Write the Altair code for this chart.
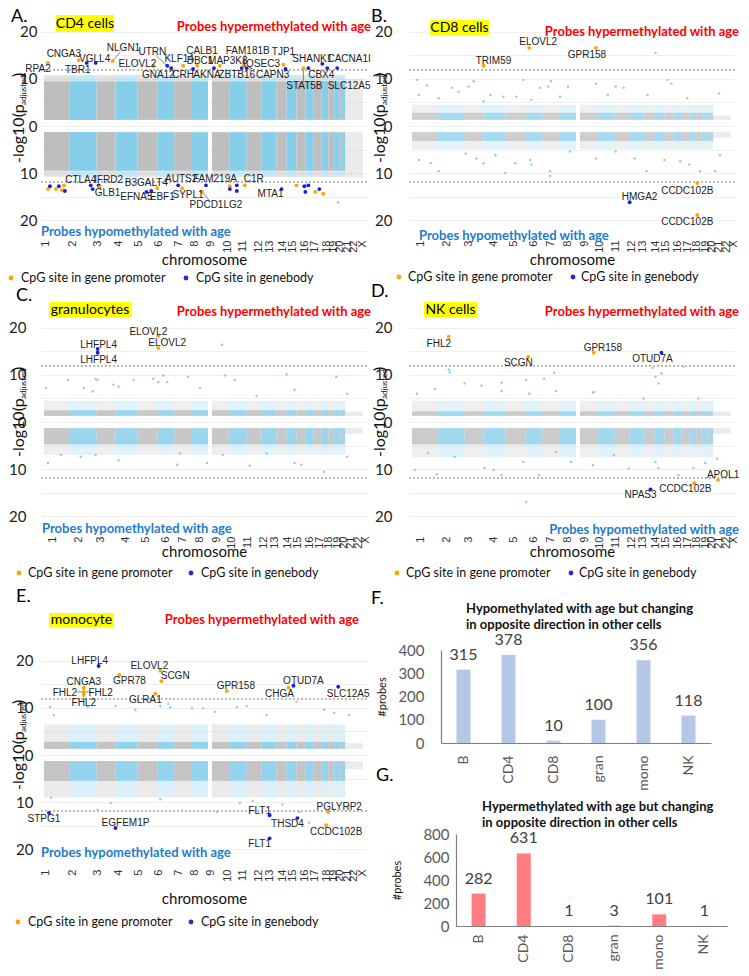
import altair as alt
import pandas as pd

FONT = "Lato"
GFONT = "Liberation Sans"
GRAY = "#bebebe"
SKY = "#87ceeb"
ORANGE = "#ffa500"
GBLUE = "#1c1ce0"
RED = "#ff0000"
HYPO_BLUE = "#1f7ccc"

# ---------------- chromosome layout (position units along the genome axis) ----------------
CHR_NAMES = ["1", "2", "3", "4", "5", "6", "7", "8", "9", "10", "11", "12", "13", "14",
             "15", "16", "17", "18", "19", "20", "21", "22", "X"]
CHR_START = [3, 29, 56, 75, 97, 117, 134, 152, 172, 190, 207, 222, 237, 247, 257, 266, 274, 282, 289, 295, 300, 303, 306]
CHR_END = [29, 56, 75, 97, 117, 134, 152, 168, 190, 207, 222, 237, 247, 257, 266, 274, 282, 289, 295, 300, 303, 306, 324]
TICKS_AE = [5, 32, 57, 78, 98, 118, 138, 154, 171, 188, 203, 219, 230, 243, 253, 265, 275, 287, 294, 300, 308, 314, 323]
TICKS_BCD = [12, 38, 60, 85, 105, 125, 142, 159, 177, 192, 208, 224, 235, 248, 258, 270, 280, 289, 298, 304, 311, 319, 326]
THRESH = 11.9

# cloud extents: core_up, halo_up, core_down, halo_down, X_up, X_down
CLOUD_A = [9.5, 10.8, -9.5, -10.8, 10.0, -11.0]
CLOUD_B = [2.8, 4.5, -3.2, -5.0, 2.2, -2.5]
CLOUD_C = [2.5, 4.5, -4.8, -7.0, 2.2, -2.5]
CLOUD_D = [2.3, 4.5, -4.8, -7.5, 2.2, -2.5]
CLOUD_E = [2.8, 6.5, -5.5, -9.0, 2.5, -3.0]

# ---------------- panel A: CD4 ----------------
A_POINTS = [(7, 13.4, "p"), (38, 14.0, "p"), (46, 13.4, "g"), (55, 13.4, "g"), (72, 13.8, "p"), (113, 12.8, "p"),
            (127, 12.8, "g"), (131, 12.3, "g"), (143, 12.8, "p"), (153, 12.1, "g"), (157, 12.8, "p"), (174, 12.3, "g"),
            (180, 12.8, "p"), (202, 12.3, "g"), (204, 12.8, "p"), (207, 12.3, "g"), (244, 13.0, "p"), (246, 12.1, "g"),
            (264, 12.3, "p"), (269, 12.3, "g"), (283, 13.2, "g"), (288, 12.3, "g"), (298, 12.3, "g"),
            (7, -13.4, "p"), (9, -12.8, "g"), (15, -13.4, "p"), (18, -12.8, "g"), (21, -13.6, "p"), (23, -12.6, "p"),
            (24, -13.8, "g"), (50, -12.6, "g"), (52, -13.4, "g"), (58, -12.6, "g"), (59, -13.0, "p"), (106, -14.0, "g"),
            (111, -13.8, "g"), (117, -13.2, "p"), (138, -12.6, "g"), (142, -13.2, "p"), (162, -14.0, "p"),
            (166, -12.6, "g"), (190, -12.8, "p"), (190, -13.4, "g"), (197, -12.6, "g"), (197, -13.8, "g"),
            (205, -12.6, "p"), (242, -13.4, "g"), (257, -12.6, "p"), (265, -12.8, "g"), (266, -14.0, "g"),
            (269, -12.6, "g"), (276, -14.0, "p"), (280, -13.4, "g"), (284, -14.4, "p")]
A_LABELS = [("RPA2", -3, 12.1), ("CNGA3", 23, 15.3), ("TBR1", 37, 11.9), ("VGLL4", 54, 14.3), ("NLGN1", 83, 16.6),
            ("ELOVL2", 97, 13.2), ("UTRN", 112, 15.7), ("GNA12", 118, 10.9), ("KLF14", 139, 14.3), ("CRH", 143, 10.9),
            ("CALB1", 162, 16.0), ("DBC1", 160, 13.8), ("AKNA", 167, 10.9), ("MAP3K8", 188, 13.8),
            ("FAM181B", 208, 16.0), ("ZBTB16", 197, 10.9), ("IQSEC3", 222, 13.2), ("TJP1", 244, 15.7),
            ("CAPN3", 233, 10.9), ("SHANK1", 273, 14.3), ("STAT5B", 265, 8.5), ("CBX4", 282, 10.9),
            ("CACNA1I", 310, 14.3), ("SLC12A5", 310, 8.5),
            ("CTLA4", 40, -11.5), ("IFRD2", 68, -11.5), ("GLB1", 67, -14.3), ("B3GALT4", 106, -12.1),
            ("EFNA5", 96, -15.1), ("EBF1", 122, -15.1), ("AUTS2", 141, -11.3), ("SYPL1", 148, -14.7),
            ("FAM219A", 175, -11.3), ("PDCD1LG2", 176, -16.8), ("C1R", 214, -11.3), ("MTA1", 231, -14.5)]
A_LEADERS = [(72, 13.8, 80, 15.8), (127, 12.8, 116, 14.9), (264, 12.0, 264, 9.3), (162, -14.0, 170, -16.0),
             (202, 12.3, 206, 15.2)]
A_SCATTER = [(299, -16.2)]

# ---------------- panel B: CD8 ----------------
B_POINTS = [(75, 12.8, "p"), (121, 16.6, "p"), (188, 16.6, "p"), (290, -12.1, "p"), (222, -16.2, "g"), (290, -18.9, "p")]
B_LABELS = [("TRIM59", 85, 13.8), ("ELOVL2", 130, 17.8), ("GPR158", 179, 15.1), ("CCDC102B", 280, -13.8),
            ("HMGA2", 232, -15.1), ("CCDC102B", 280, -20.4)]
B_LEADERS = []
B_SCATTER = [(248, 15.5), (8, 9.8), (18, 8.6), (10, 6.6), (30, 5.9), (43, 8.1), (50, 7.3), (60, 8.4), (65, 9.5),
             (75, 5.2), (82, 6.6), (95, 6.2), (108, 6.2), (115, 9.8), (123, 5.6), (132, 8.1), (140, 8.4), (143, 9.5),
             (152, 6.2), (160, 8.4), (188, 9.0), (200, 6.6), (208, 8.4), (216, 8.1), (240, 6.6), (260, 9.8),
             (264, 9.0), (280, 5.9), (312, 6.9),
             (10, -7.2), (22, -7.9), (30, -9.6), (57, -5.9), (68, -6.9), (75, -7.9), (87, -6.2), (97, -10.0),
             (107, -7.9), (122, -7.2), (123, -8.2), (142, -9.6), (142, -10.6), (162, -5.4), (188, -6.9),
             (208, -5.4), (227, -6.9), (239, -9.6), (257, -7.2), (273, -7.5), (282, -8.2), (293, -9.6),
             (308, -9.6), (313, -6.2)]

# ---------------- panel C: granulocytes ----------------
C_POINTS = [(57, 15.5, "g"), (57, 14.7, "g"), (118, 18.3, "p"), (118, 15.7, "p")]
C_LABELS = [("LHFPL4", 58, 16.4), ("LHFPL4", 58, 13.2), ("ELOVL2", 108, 19.1), ("ELOVL2", 127, 16.8)]
C_LEADERS = []
C_SCATTER = [(182, 16.4), (5, 7.2), (27, 8.9), (43, 7.2), (55, 9.1), (57, 8.9), (52, 6.5), (73, 7.9), (78, 7.5),
             (93, 8.9), (113, 9.2), (118, 8.5), (123, 9.9), (127, 8.5), (148, 9.6), (160, 7.2), (185, 9.9),
             (195, 8.9), (217, 5.5), (247, 10.1), (255, 6.8), (297, 9.6), (308, 6.0),
             (7, -8.7), (20, -7.0), (40, -7.4), (55, -7.0), (78, -8.1), (137, -9.1), (140, -6.7), (167, -8.7),
             (183, -7.0), (210, -9.3), (227, -6.7), (255, -8.7), (262, -9.1), (285, -10.6), (308, -7.4)]

# ---------------- panel D: NK ----------------
D_POINTS = [(40, 18.1, "p"), (120, 13.8, "p"), (186, 14.7, "p"), (254, 14.7, "g"), (243, -14.3, "g"),
            (287, -13.0, "p"), (311, -12.3, "p")]
D_LABELS = [("FHL2", 30, 16.6), ("SCGN", 110, 12.5), ("GPR158", 195, 15.7), ("OTUD7A", 245, 13.4),
            ("NPAS3", 233, -15.5), ("CCDC102B", 278, -14.3), ("APOL1", 316, -11.3)]
D_LEADERS = []
D_SCATTER = [(118, -17.0), (40, 11.1), (41, 10.5), (8, 6.0), (26, 7.0), (56, 8.2), (73, 7.7), (93, 8.4), (93, 6.6),
             (118, 8.9), (121, 6.0), (136, 9.2), (146, 10.4), (148, 6.6), (185, 6.2), (186, 6.4), (236, 5.0),
             (248, 9.6), (251, 8.2), (254, 10.3), (245, 11.5), (276, 11.8), (291, 5.0),
             (6, -10.2), (19, -6.6), (28, -11.1), (46, -7.4), (76, -9.8), (85, -10.2), (93, -11.3), (115, -8.5),
             (131, -11.3), (148, -6.4), (163, -8.5), (185, -9.2), (206, -7.0), (221, -9.9), (248, -8.5),
             (251, -9.8), (271, -11.3), (286, -9.8), (298, -8.7), (310, -7.8)]

# ---------------- panel E: monocyte ----------------
E_POINTS = [(58, 18.9, "g"), (79, 17.0, "p"), (120, 17.9, "p"), (121, 15.7, "p"), (115, 13.0, "p"), (43, 14.3, "p"),
            (43, 13.4, "p"), (43, 12.8, "p"), (187, 13.6, "p"), (254, 14.7, "g"), (249, 14.3, "p"), (299, 14.5, "g"),
            (8, -12.3, "g"), (75, -15.5, "g"), (230, -12.8, "g"), (230, -17.7, "g"), (258, -13.4, "g"),
            (289, -12.1, "p"), (287, -14.9, "p")]
E_LABELS = [("LHFPL4", 49, 20.0), ("GPR78", 89, 15.7), ("ELOVL2", 109, 18.9), ("SCGN", 135, 16.8),
            ("GLRA1", 105, 11.7), ("CNGA3", 43, 15.5), ("FHL2", 24, 13.2), ("FHL2", 60, 13.2), ("FHL2", 43, 11.1),
            ("GPR158", 196, 14.7), ("OTUD7A", 264, 15.7), ("CHGA", 240, 13.0), ("SLC12A5", 309, 13.0),
            ("STPG1", 3, -13.6), ("EGFEM1P", 85, -14.5), ("FLT1", 220, -11.9), ("FLT1", 220, -18.9),
            ("THSD4", 248, -14.7), ("PGLYRP2", 300, -11.1), ("CCDC102B", 297, -16.4)]
E_LEADERS = [(36, 13.4, 50, 13.4), (43, 12.3, 43, 14.6)]
E_SCATTER = [(9, 10.2), (13, 8.5), (47, 10.2), (75, 10.4), (95, 9.6), (120, 10.4), (128, 10.9), (130, 10.1),
             (152, 9.9), (163, 9.9), (175, 9.2), (197, 10.2), (207, 10.4), (227, 8.5), (257, 11.3), (285, 9.6),
             (295, 8.9), (310, 8.5), (10, -9.1), (57, -11.6), (70, -10.2), (120, -9.4), (142, -11.8),
             (177, -12.1), (200, -10.2), (213, -9.7), (243, -10.5), (270, -14.4), (260, -12.1), (310, -10.9)]

# ---------------- bar panels F, G ----------------
CELLS = ["B", "CD4", "CD8", "gran", "mono", "NK"]
F_VALUES = [315, 378, 10, 100, 356, 118]
G_VALUES = [282, 631, 1, 3, 101, 1]

W = 326
XDOM = [0, 328]
PX_PER_UNIT = 226 / 48.0


def chrom_color(x):
    for i in range(len(CHR_NAMES)):
        if CHR_START[i] <= x < CHR_END[i]:
            return SKY if i % 2 else GRAY
    return GRAY


def cloud_rows(cloud, core_op, halo_op):
    cu, hu, cd, hd, xu, xd = cloud
    rows = []
    for i, name in enumerate(CHR_NAMES):
        s, e = CHR_START[i], CHR_END[i]
        c = SKY if i % 2 else GRAY
        if name == "X":
            rows.append(dict(x0=s, x1=e, y0=1.3, y1=xu, c=c, o=0.3))
            rows.append(dict(x0=s, x1=e, y0=-1.3, y1=xd, c=c, o=0.3))
        else:
            rows.append(dict(x0=s, x1=e, y0=cu, y1=hu, c=c, o=halo_op))
            rows.append(dict(x0=s, x1=e, y0=cd, y1=hd, c=c, o=halo_op))
            rows.append(dict(x0=s, x1=e, y0=1.3, y1=cu, c=c, o=core_op))
            rows.append(dict(x0=s, x1=e, y0=-1.3, y1=cd, c=c, o=core_op))
    return pd.DataFrame(rows)


def px_text(text, x, y, **kw):
    return alt.Chart(pd.DataFrame({"t": [text]})).mark_text(**kw).encode(
        x=alt.value(x), y=alt.value(y), text="t:N")


def px_dot(x, y, color, size=24):
    return alt.Chart(pd.DataFrame({"t": [0]})).mark_circle(color=color, size=size, opacity=1).encode(
        x=alt.value(x), y=alt.value(y))


def px_box(x0, x1, y0, y1, color):
    return alt.Chart(pd.DataFrame({"t": [0]})).mark_rect(color=color).encode(
        x=alt.value(x0), x2=alt.value(x1), y=alt.value(y0), y2=alt.value(y1))


def manhattan(cfg):
    extra = cfg.get("extra_top", 0)
    h = 226 + extra
    ytop = 24 + extra / PX_PER_UNIT
    xs = alt.Scale(domain=XDOM, nice=False, zero=False)
    ys = alt.Scale(domain=[-24, ytop], nice=False, zero=False)
    ticks = cfg["ticks"]
    names_js = "[" + ",".join("'%s'" % n for n in CHR_NAMES) + "]"
    pos_js = "[" + ",".join(str(t) for t in ticks) + "]"
    xaxis = alt.Axis(values=ticks, labelExpr="%s[indexof(%s, datum.value)]" % (names_js, pos_js),
                     labelAngle=270, labelFont=GFONT, labelFontSize=11, labelColor="#333",
                     labelOverlap=False, labelFlush=False, labelPadding=1, ticks=False, tickSize=0,
                     domain=False, grid=False, title="chromosome", titleFont=FONT, titleFontSize=15,
                     titleFontWeight="normal", titleColor="#111", titlePadding=cfg["xtitle_pad"])
    yaxis = alt.Axis(values=list(range(-20, 21, 5)),
                     labelExpr="abs(datum.value) % 10 == 0 ? format(abs(datum.value), 'd') : ''",
                     labelFont=FONT, labelFontSize=15, labelColor="#222", labelPadding=cfg["ylab_pad"],
                     ticks=False, tickSize=0, domain=False, grid=True, gridColor="#ebebeb", gridWidth=0.8,
                     title=None)

    def X(f):
        return alt.X(f, scale=xs, axis=xaxis)

    def Y(f):
        return alt.Y(f, scale=ys, axis=yaxis)

    layers = []
    layers.append(alt.Chart(cloud_rows(cfg["cloud"], cfg["core_op"], cfg["halo_op"])).mark_rect().encode(
        x=X("x0:Q"), x2="x1:Q", y=Y("y0:Q"), y2="y1:Q",
        color=alt.Color("c:N", scale=None), opacity=alt.Opacity("o:Q", scale=None)))
    layers.append(alt.Chart(pd.DataFrame({"v": [THRESH, -THRESH]})).mark_rule(
        color="#666", strokeDash=[2, 2], strokeWidth=0.9).encode(y=Y("v:Q")))
    sc = pd.DataFrame([dict(x=x, y=y, c=chrom_color(x)) for x, y in cfg["scatter"]])
    layers.append(alt.Chart(sc).mark_circle(size=6, opacity=1).encode(
        x=X("x:Q"), y=Y("y:Q"), color=alt.Color("c:N", scale=None)))
    if cfg["leaders"]:
        ld = pd.DataFrame(cfg["leaders"], columns=["x", "y", "x2", "y2"])
        layers.append(alt.Chart(ld).mark_rule(color="#555", strokeWidth=0.7).encode(
            x=X("x:Q"), y=Y("y:Q"), x2="x2:Q", y2="y2:Q"))
    pt = pd.DataFrame(cfg["points"], columns=["x", "y", "t"])
    layers.append(alt.Chart(pt).mark_circle(size=15, opacity=1).encode(
        x=X("x:Q"), y=Y("y:Q"),
        color=alt.Color("t:N", scale=alt.Scale(domain=["p", "g"], range=[ORANGE, GBLUE]), legend=None)))
    lb = pd.DataFrame(cfg["labels"], columns=["t", "x", "y"])
    layers.append(alt.Chart(lb).mark_text(font=GFONT, fontSize=10, color="#222").encode(
        x=X("x:Q"), y=Y("y:Q"), text="t:N"))

    # annotations (pixel offsets relative to the original 226px plot top)
    lx, ly = cfg["letter"]
    layers.append(px_text(cfg["name"], lx, ly + extra, font=FONT, fontSize=18, align="left", baseline="top",
                          color="#000"))
    bx0, bx1, by0, by1 = cfg["box"]
    layers.append(px_box(bx0, bx1, by0 + extra, by1 + extra, "#ffff00"))
    layers.append(px_text(cfg["cell"], (bx0 + bx1) / 2, (by0 + by1) / 2 + extra, font=FONT, fontSize=14,
                          align="center", baseline="middle", color="#000"))
    rx, ry = cfg["red"]
    layers.append(px_text("Probes hypermethylated with age", rx, ry + extra, font=FONT, fontSize=13,
                          fontWeight="bold", color=RED, align="right", baseline="middle"))
    hx, hy, ha = cfg["hypo"]
    layers.append(px_text("Probes hypomethylated with age", hx, hy + extra, font=FONT, fontSize=13,
                          fontWeight="bold", color=HYPO_BLUE, align=ha, baseline="middle"))
    gy = cfg["legend_y"] + extra
    od, ot, bd, bt = cfg["legend_x"]
    layers.append(px_dot(od, gy, ORANGE))
    layers.append(px_text("CpG site in gene promoter", ot, gy, font=FONT, fontSize=12.5, align="left",
                          baseline="middle", color="#111"))
    layers.append(px_dot(bd, gy, "#2b2bcc"))
    layers.append(px_text("CpG site in genebody", bt, gy, font=FONT, fontSize=12.5, align="left",
                          baseline="middle", color="#111"))
    tx, ty = cfg["ytitle"]
    ty = ty + extra
    layers.append(px_text("-log10(p", tx, ty, font=FONT, fontSize=16, angle=270, align="left",
                          baseline="middle", color="#111"))
    layers.append(px_text("adjusted", tx + 5, ty - 58, font=FONT, fontSize=8, angle=270, align="left",
                          baseline="middle", color="#111"))
    layers.append(px_text(")", tx, ty - 86, font=FONT, fontSize=16, angle=270, align="left",
                          baseline="middle", color="#111"))
    return alt.layer(*layers).properties(width=W, height=h)


def bar_panel(name, values, color, ymax, yvals, width, height, xrange, yrange, title_lines, title_x, title_ys,
              letter_xy, ypad, xpad, ytpad):
    df = pd.DataFrame({"cell": CELLS, "n": values})
    x = alt.X("cell:N", sort=CELLS, scale=alt.Scale(paddingInner=0, paddingOuter=0, range=xrange),
              axis=alt.Axis(title=None, labelAngle=270, labelFont=FONT, labelFontSize=14, labelColor="#595959",
                            ticks=False, tickSize=0, labelPadding=xpad, domainColor="#7f7f7f", domainWidth=1.2))
    y = alt.Y("n:Q", scale=alt.Scale(domain=[0, ymax], nice=False, range=yrange),
              axis=alt.Axis(values=yvals, title="#probes", titleFont=FONT, titleFontSize=11,
                            titleFontWeight="normal", titleColor="#111", titlePadding=ytpad, labelFont=FONT,
                            labelFontSize=15, labelColor="#595959", ticks=False, tickSize=0, labelPadding=ypad,
                            grid=False, domainColor="#7f7f7f", domainWidth=1.2, offset=-xrange[0]))
    layers = [
        alt.Chart(df).mark_bar(size=14, color=color).encode(x=x, y=y),
        alt.Chart(df).mark_text(font=FONT, fontSize=16, color="#404040", baseline="middle", dy=-15).encode(
            x=x, y=y, text="n:Q"),
    ]
    for line, ty in zip(title_lines, title_ys):
        layers.append(px_text(line, title_x, ty, font=FONT, fontSize=13, fontWeight="bold", color="#111",
                              align="left", baseline="middle"))
    layers.append(px_text(name, letter_xy[0], letter_xy[1], font=FONT, fontSize=18, align="left",
                          baseline="top", color="#000"))
    return alt.layer(*layers).properties(width=width, height=height)


A = manhattan(dict(name="A.", letter=(-30, -5), cell="CD4 cells", box=(15, 73, 2, 19), red=(330, 14),
                   hypo=(0, 219, "left"), legend_y=265, legend_x=(-30, -20, 145, 155), ytitle=(-22, 150),
                   ylab_pad=4, xtitle_pad=0, ticks=TICKS_AE, cloud=CLOUD_A, core_op=1.0, halo_op=0.45,
                   points=A_POINTS, labels=A_LABELS, leaders=A_LEADERS, scatter=A_SCATTER))
B = manhattan(dict(name="B.", letter=(-38, -5), cell="CD8 cells", box=(21, 80, 7, 22), red=(330, 19),
                   hypo=(10, 223, "left"), legend_y=264, legend_x=(-10, -1, 164, 172), ytitle=(-29, 150),
                   ylab_pad=17, xtitle_pad=0, ticks=TICKS_BCD, cloud=CLOUD_B, core_op=0.75, halo_op=0.25,
                   points=B_POINTS, labels=B_LABELS, leaders=B_LEADERS, scatter=B_SCATTER))
C = manhattan(dict(name="C.", letter=(-25, -22), cell="granulocytes", box=(8, 90, -7, 8), red=(330, 3),
                   hypo=(1, 220, "left"), legend_y=264, legend_x=(-22, -13, 150, 160), ytitle=(-22, 148),
                   ylab_pad=15, xtitle_pad=-4, ticks=TICKS_BCD, cloud=CLOUD_C, core_op=0.85, halo_op=0.25,
                   points=C_POINTS, labels=C_LABELS, leaders=C_LEADERS, scatter=C_SCATTER))
D = manhattan(dict(name="D.", letter=(-38, -26), cell="NK cells", box=(15, 68, -7, 8), red=(330, 3),
                   hypo=(330, 221, "right"), legend_y=264, legend_x=(-12, -3, 162, 170), ytitle=(-29, 148),
                   ylab_pad=17, xtitle_pad=-4, ticks=TICKS_BCD, cloud=CLOUD_D, core_op=0.8, halo_op=0.25,
                   points=D_POINTS, labels=D_LABELS, leaders=D_LEADERS, scatter=D_SCATTER))
E = manhattan(dict(name="E.", letter=(-25, -54), cell="monocyte", box=(8, 73, -29, -15), red=(318, -22),
                   hypo=(0, 211, "left"), legend_y=280, legend_x=(-23, -13, 150, 160), ytitle=(-22, 148),
                   ylab_pad=8, xtitle_pad=10, ticks=TICKS_AE, cloud=CLOUD_E, core_op=0.9, halo_op=0.3,
                   extra_top=37,
                   points=E_POINTS, labels=E_LABELS, leaders=E_LEADERS, scatter=E_SCATTER))

F = bar_panel("F.", F_VALUES, "#b4c7e7", 400, [0, 100, 200, 300, 400], 302, 138, [32, 302], [138, 45],
              ["Hypomethylated with age but changing", "in opposite direction in other cells"],
              57, [4, 20], (-38, -15), 17, 12, 10)
G = bar_panel("G.", G_VALUES, "#ff7c80", 800, [0, 200, 400, 600, 800], 318, 113, [47, 318], [113, 21],
              ["Hypermethylated with age but changing", "in opposite direction in other cells"],
              73, [-6, 10], (-33, -46), 7, 8, 20)

left = alt.vconcat(A, C, E, spacing=70, bounds="flush")
right = alt.vconcat(B, D, F, G, spacing=70, bounds="flush")

chart = alt.hconcat(left, right, spacing=0, padding=0).configure_view(strokeWidth=0)

chart.save("out.html", embed_options={"renderer": "svg", "actions": False})
